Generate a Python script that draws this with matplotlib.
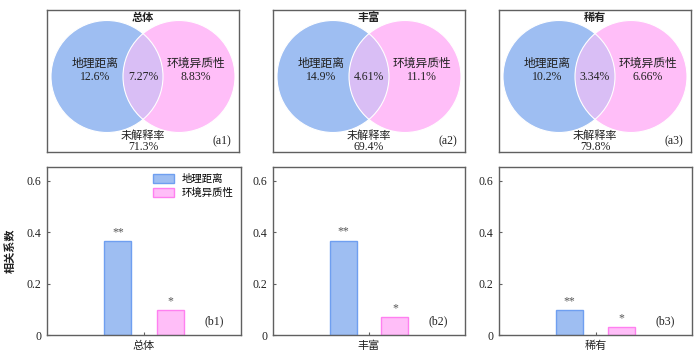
import numpy as np
import matplotlib
matplotlib.use("Agg")
import matplotlib.pyplot as plt
from matplotlib.patches import Circle

plt.rcParams['font.family'] = ['Liberation Serif', 'Noto Sans CJK SC', 'DejaVu Sans']

# -------------------------
# data
# -------------------------
groups = ["总体", "丰富", "稀有"]
venn_tags = ["(a1)", "(a2)", "(a3)"]
bar_tags = ["(b1)", "(b2)", "(b3)"]
geo_only = ["12.6%", "14.9%", "10.2%"]
shared = ["7.27%", "4.61%", "3.34%"]
env_only = ["8.83%", "11.1%", "6.66%"]
unexplained = ["71.3%", "69.4%", "79.8%"]

series = ["地理距离", "环境异质性"]
geo_r = [0.366, 0.367, 0.097]
env_r = [0.097, 0.070, 0.031]
geo_sig = ["**", "**", "**"]
env_sig = ["*", "*", "*"]
yticks = [0, 0.2, 0.4, 0.6]
ytick_labels = ["0", "0.2", "0.4", "0.6"]

blue = "#9ebef2"
blue_edge = "#6f9ff0"
pink = "#ffbef8"
pink_edge = "#ff80f0"
lens = "#d9bef5"
frame = "#606060"
txt = "#222222"

W, H = 700, 358
fig = plt.figure(figsize=(7, 3.58), dpi=100)

lefts = [47, 273, 499]
widths = [194, 192, 193]


def venn(ax, i):
    w, h = 192, 142.5
    ax.set_xlim(0, w)
    ax.set_ylim(h, 0)
    ax.set_xticks([])
    ax.set_yticks([])
    for s in ax.spines.values():
        s.set_color(frame)
        s.set_linewidth(1.0)
    r = 56
    cy = 67
    c1 = Circle((w / 2 - 36, cy), r, facecolor=blue, edgecolor="none")
    c2 = Circle((w / 2 + 36, cy), r, facecolor=pink, edgecolor="none")
    ax.add_patch(c1)
    ax.add_patch(c2)
    c3 = Circle((w / 2 - 36, cy), r, facecolor=lens, edgecolor="none")
    ax.add_patch(c3)
    c3.set_clip_path(c2)
    for cx in (w / 2 - 36, w / 2 + 36):
        ax.add_patch(Circle((cx, cy), r, facecolor="none", edgecolor="white", lw=0.8))
    ax.text(w / 2, 8, groups[i], ha="center", va="center", fontsize=8,
            fontweight="bold", color=txt)
    ax.text(w / 2 - 48, 54, series[0], ha="center", va="center", fontsize=8.5,
            fontweight="medium", color=txt)
    ax.text(w / 2 - 48, 68, geo_only[i], ha="center", va="center", fontsize=8.5, color=txt)
    ax.text(w / 2, 68, shared[i], ha="center", va="center", fontsize=8.5, color=txt)
    ax.text(w / 2 + 53, 54, series[1], ha="center", va="center", fontsize=8.5,
            fontweight="medium", color=txt)
    ax.text(w / 2 + 53, 68, env_only[i], ha="center", va="center", fontsize=8.5, color=txt)
    ax.text(w / 2, 126, "未解释率", ha="center", va="center", fontsize=8,
            fontweight="medium", color=txt)
    ax.text(w / 2, 137.5, unexplained[i], ha="center", va="center", fontsize=8.5, color=txt)
    ax.text(w - 17, 132, venn_tags[i], ha="center", va="center", fontsize=8.5, color=txt)


for i in range(3):
    ax = fig.add_axes([lefts[i] / W, (H - 152) / H, 192 / W, 142.5 / H])
    venn(ax, i)

    bx = fig.add_axes([lefts[i] / W, (H - 335) / H, widths[i] / W, 168 / H])
    bw = 0.28
    bx.bar(-0.27, geo_r[i], bw, color=blue, edgecolor=blue_edge, lw=1.0, label=series[0])
    bx.bar(0.27, env_r[i], bw, color=pink, edgecolor=pink_edge, lw=1.0, label=series[1])
    bx.text(-0.27, geo_r[i] + 0.012, geo_sig[i], ha="center", va="bottom", fontsize=8.5, color="#555555")
    bx.text(0.27, env_r[i] + 0.012, env_sig[i], ha="center", va="bottom", fontsize=8.5, color="#555555")
    bx.set_xlim(-1, 1)
    bx.set_ylim(0, 0.654)
    bx.set_yticks(yticks)
    bx.set_yticklabels(ytick_labels)
    bx.set_xticks([0])
    bx.set_xticklabels([groups[i]])
    bx.tick_params(axis="both", direction="in", length=2.5, width=0.8, colors=frame,
                   labelcolor=txt, labelsize=8.5, pad=4)
    bx.tick_params(axis="x", length=2, pad=4, labelsize=8)
    for s in bx.spines.values():
        s.set_color(frame)
        s.set_linewidth(1.0)
    bx.text(0.86, 0.08, bar_tags[i], transform=bx.transAxes, ha="center", va="center",
            fontsize=8.5, color=txt)
    if i == 0:
        bx.set_ylabel("相关系数", fontsize=8, fontweight="bold", color=txt, labelpad=8)
        bx.legend(loc="upper right", fontsize=7.5, frameon=False, handlelength=2.0,
                  handleheight=0.9, borderaxespad=0.3, labelspacing=0.3,
                  bbox_to_anchor=(1.0, 1.0))

fig.savefig("out.png", dpi=100)
